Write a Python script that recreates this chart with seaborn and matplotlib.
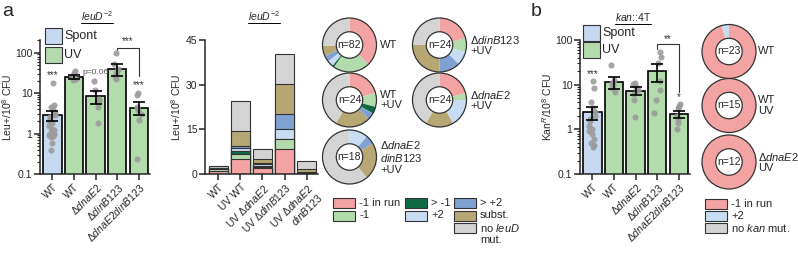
import numpy as np
import pandas as pd
import matplotlib
matplotlib.use("Agg")
import matplotlib.pyplot as plt
import seaborn as sns
from matplotlib.patches import Rectangle, Circle

sns.set_style("ticks")
plt.rcParams["font.family"] = ["Liberation Sans", "DejaVu Sans"]
plt.rcParams["mathtext.fontset"] = "custom"
plt.rcParams["mathtext.rm"] = "Liberation Sans"
plt.rcParams["mathtext.it"] = "Liberation Sans:italic"
plt.rcParams["mathtext.bf"] = "Liberation Sans:bold"
plt.rcParams["axes.linewidth"] = 1.1
plt.rcParams["xtick.major.width"] = 1.1
plt.rcParams["ytick.major.width"] = 1.1
plt.rcParams["ytick.minor.width"] = 0.8

# ---- data: panel a, leuD-2 reversion frequencies (Leu+/10^8 CFU)
strain_keys = ["WT_spont", "WT_UV", "dnaE2", "dinB123", "dnaE2dinB123"]
strain_labels = ["WT", "WT", r"Δ$\mathit{dnaE2}$", r"Δ$\mathit{dinB123}$",
                 r"Δ$\mathit{dnaE2dinB123}$"]
leu_means = [2.9, 25, 8.4, 40, 4.4]
leu_sem = [0.8, 3, 3, 13, 1.6]
leu_wt_spont = [18, 5.2, 4.5, 3.8, 3.2, 2.8, 2.5, 2.2, 2.0, 1.8, 1.5, 1.3,
                1.2, 1.1, 1.0, 1.0, 0.9, 0.85, 0.8, 0.6, 0.4]
leu_wt_uv = [35, 31, 27, 24, 22, 21]
leu_dnae2 = [20, 12, 7, 6.3, 6, 4.5, 1.8]
leu_dinb = [100, 52, 40, 35, 30, 26, 22]
leu_double = [10, 9, 4.5, 3.8, 3, 2.2, 0.23]

# ---- data: panel a, stacked mutation spectrum
stack_labels = ["WT", "UV WT", r"UV Δ$\mathit{dnaE2}$", r"UV Δ$\mathit{dinB123}$",
                "UV Δ$\\mathit{dnaE2}$\n$\\mathit{dinB123}$"]
mut_types = ["-1 in run", "-1", "> -1", "+2", "> +2", "subst.", "no $\\mathit{leuD}$\nmut."]
mut_colors = ["#f4a3a3", "#b3dcad", "#0e6b45", "#c9ddf2", "#7fa2d3", "#b6a774", "#d4d4d4"]
seg_run_m1 = [1.05, 4.9, 1.9, 8.3, 0]
seg_m1 = [0.6, 1.9, 0.4, 3.3, 0]
seg_gt_m1 = [0.05, 1.0, 0.3, 0, 0]
seg_p2 = [0.1, 1.0, 0.9, 3.4, 0.5]
seg_gt_p2 = [0.1, 0.6, 0.3, 5.0, 0.3]
seg_subst = [0.2, 5.0, 1.3, 10.1, 0.9]
seg_no_mut = [0.7, 10.1, 3.3, 10.1, 2.6]

# ---- data: panel a donuts (counts per mutation type)
donut_wt = [31, 18, 1, 3, 3, 5, 21]
donut_wt_uv = [5, 2, 1, 0, 1, 5, 10]
donut_dinb = [5, 2, 0, 2, 3, 6, 6]
donut_dnae2 = [5, 1, 0, 4, 0, 4, 10]
donut_double = [0, 0, 0, 2, 1, 4, 11]

# ---- data: panel b, kan::4T (KanR/10^8 CFU)
kan_means = [2.4, 11.2, 7.3, 20, 2.2]
kan_sem = [0.75, 3.3, 1.5, 8.5, 0.4]
kan_wt_spont = [12, 8.5, 4, 3, 2.5, 2, 1.7, 1.5, 1.2, 1.0, 0.9, 0.8, 0.6,
                0.5, 0.45, 0.4]
kan_wt_uv = [28, 13, 11, 10, 8.5, 7]
kan_dnae2 = [11, 10.5, 9, 7.5, 6.3, 4.5, 1.9]
kan_dinb = [53, 41, 30, 12, 7.5, 4.5, 2.3]
kan_double = [3.7, 3.3, 3.0, 2.0, 1.7, 1.4, 1.0]

kan_types = ["-1 in run", "+2", "no $\\mathit{kan}$ mut."]
kan_colors = ["#f4a3a3", "#c9ddf2", "#d4d4d4"]
kan_donut_wt = [22, 1, 0]
kan_donut_wt_uv = [15, 0, 0]
kan_donut_dnae2_uv = [12, 0, 0]

SPONT = "#c6d9f1"
UV = "#b3dcad"
DOT = "#9b9b9b"
W, H = 798, 256

fig = plt.figure(figsize=(W / 100, H / 100), dpi=100)


def px_axes(x0, y0, x1, y1, **kw):
    return fig.add_axes([x0 / W, 1 - y1 / H, (x1 - x0) / W, (y1 - y0) / H], **kw)


def freq_panel(ax, means, sem, groups, ylim, ylabel):
    np.random.seed(3)
    df = pd.DataFrame({"strain": np.repeat(strain_keys, [len(g) for g in groups]),
                       "freq": np.concatenate(groups)})
    sns.barplot(x=strain_keys, y=means, hue=strain_keys, order=strain_keys,
                palette=[SPONT, UV, UV, UV, UV], saturation=1, legend=False,
                width=0.84, edgecolor="black", linewidth=1.2, ax=ax)
    sns.stripplot(data=df, x="strain", y="freq", order=strain_keys, color=DOT,
                  size=4.4, jitter=0.17, alpha=0.9, linewidth=0, ax=ax, zorder=3)
    ax.errorbar(range(5), means, yerr=sem, fmt="none", ecolor="black",
                elinewidth=1.2, capsize=4, capthick=1.2, zorder=4)
    ax.set_yscale("log")
    ax.set_ylim(*ylim)
    ax.set_xlim(-0.58, 4.53)
    ax.set_yticks([0.1, 1, 10, 100])
    ax.set_yticklabels(["0.1", "1", "10", "100"], fontsize=7.5)
    ax.set_xticks(range(5))
    ax.set_xticklabels(strain_labels, rotation=45, ha="right",
                       rotation_mode="anchor", fontsize=7.5)
    ax.set_xlabel("")
    ax.set_ylabel(ylabel, fontsize=7.5, labelpad=1)
    ax.tick_params(axis="both", length=4, pad=1.5)
    ax.tick_params(axis="y", which="minor", length=2)
    sns.despine(ax=ax)


def donut(ax, counts, colors):
    ax.pie(counts, colors=colors, startangle=90, counterclock=False, radius=1,
           wedgeprops=dict(width=0.51, edgecolor="none"))
    ax.add_patch(Circle((0, 0), 1, fill=False, ec="#333333", lw=0.9))
    ax.add_patch(Circle((0, 0), 0.49, fill=False, ec="#333333", lw=0.9))
    ax.text(0, 0, f"n={sum(counts)}", ha="center", va="center", fontsize=7.5)
    ax.set_xlim(-1.05, 1.05)
    ax.set_ylim(-1.05, 1.05)
    ax.set_aspect("equal")
    ax.axis("off")


def donut_at(cx, cy, counts, colors, r=27):
    h = r * 1.05
    donut(px_axes(cx - h, cy - h, cx + h, cy + h), counts, colors)


# ---- panel a: frequencies
ax1 = px_axes(40, 40, 150, 174)
freq_panel(ax1, leu_means, leu_sem,
           [leu_wt_spont, leu_wt_uv, leu_dnae2, leu_dinb, leu_double],
           (0.1, 205), "Leu+/10$^8$ CFU")
ax1.text(0, 24, "***", ha="center", fontsize=7, color="#333333")
ax1.text(2, 30, "p=0.06", ha="center", fontsize=6, color="#555555")
ax1.text(4, 13, "***", ha="center", fontsize=7, color="#333333")
ax1.plot([3, 3, 4, 4], [115, 133, 133, 26], color="#333333", lw=0.8)
ax1.text(3.5, 160, "***", ha="center", fontsize=7, color="#333333", clip_on=False)

# ---- panel a: stacked spectrum
ax2 = px_axes(205, 40, 318, 174)
segs = np.array([seg_run_m1, seg_m1, seg_gt_m1, seg_p2, seg_gt_p2, seg_subst, seg_no_mut])
cum = np.cumsum(segs, axis=0)
for i in reversed(range(len(mut_types))):
    sns.barplot(x=list(range(5)), y=cum[i], color=mut_colors[i], saturation=1,
                width=0.86, edgecolor="#333333", linewidth=0.8, ax=ax2)
ax2.set_ylim(0, 45)
ax2.set_xlim(-0.61, 4.52)
ax2.set_yticks([0, 15, 30, 45])
ax2.set_yticklabels(["0", "15", "30", "45"], fontsize=7.5)
ax2.set_xticks(range(5))
ax2.set_xticklabels(stack_labels, rotation=45, ha="right",
                    rotation_mode="anchor", fontsize=7.5)
ax2.set_xlabel("")
ax2.set_ylabel("Leu+/10$^8$ CFU", fontsize=7.5, labelpad=2)
ax2.tick_params(axis="both", length=4, pad=1.5)
sns.despine(ax=ax2)

# ---- panel a: donuts
donut_at(349.5, 45, donut_wt, mut_colors)
donut_at(439.5, 45, donut_dinb, mut_colors)
donut_at(349.5, 100, donut_wt_uv, mut_colors)
donut_at(439.5, 100, donut_dnae2, mut_colors)
donut_at(349.5, 157, donut_double, mut_colors)

# ---- panel b
ax3 = px_axes(580, 40, 690, 174)
freq_panel(ax3, kan_means, kan_sem,
           [kan_wt_spont, kan_wt_uv, kan_dnae2, kan_dinb, kan_double],
           (0.1, 100), "Kan$^R$/10$^8$ CFU")
ax3.text(0, 15, "***", ha="center", fontsize=7, color="#333333")
ax3.text(4, 4.6, "*", ha="center", fontsize=7, color="#333333")
ax3.plot([3, 3, 4, 4], [63, 82, 82, 7], color="#333333", lw=0.8)
ax3.text(3.5, 92, "**", ha="center", fontsize=7, color="#333333", clip_on=False)

donut_at(729, 51.5, kan_donut_wt, kan_colors)
donut_at(729, 105.5, kan_donut_wt_uv, kan_colors)
donut_at(729, 162, kan_donut_dnae2_uv, kan_colors)

# ---- overlay for letters, titles, legends, labels
ov = fig.add_axes([0, 0, 1, 1], zorder=20)
ov.set_xlim(0, W)
ov.set_ylim(H, 0)
ov.axis("off")

ov.text(2, 11, "a", fontsize=14, va="center")
ov.text(531, 11, "b", fontsize=14, va="center")

titles = [ov.text(97, 16, r"$\mathit{leuD}^{-2}$", ha="center", va="center", fontsize=7.5),
          ov.text(264, 16, r"$\mathit{leuD}^{-2}$", ha="center", va="center", fontsize=7.5),
          ov.text(633, 17, r"$\mathit{kan}$::4T", ha="center", va="center", fontsize=7.5)]

# Spont / UV keys
for x0, y_sp, y_uv in [(45, 28, 47), (583, 25, 42)]:
    ov.add_patch(Rectangle((x0, y_sp), 17, 16, fc=SPONT, ec="#333333", lw=0.8))
    ov.add_patch(Rectangle((x0, y_uv), 17, 16, fc=UV, ec="#333333", lw=0.8))
    ov.text(x0 + 19, y_sp + 8, "Spont", va="center", fontsize=9)
    ov.text(x0 + 19, y_uv + 8, "UV", va="center", fontsize=9)

# donut labels
ov.text(380, 45, "WT", va="center", fontsize=8)
ov.text(380, 100, "WT\n+UV", va="center", fontsize=8, linespacing=1.1)
ov.text(380, 157, "Δ$\\mathit{dnaE2}$\n$\\mathit{dinB123}$\n+UV", va="center",
        fontsize=8, linespacing=1.1)
ov.text(470, 45, "Δ$\\mathit{dinB123}$\n+UV", va="center", fontsize=8, linespacing=1.1)
ov.text(470, 100, "Δ$\\mathit{dnaE2}$\n+UV", va="center", fontsize=8, linespacing=1.1)
ov.text(758, 51.5, "WT", va="center", fontsize=8)
ov.text(758, 105.5, "WT\nUV", va="center", fontsize=8, linespacing=1.1)
ov.text(758, 162, "Δ$\\mathit{dnaE2}$\nUV", va="center", fontsize=8, linespacing=1.1)

# spectrum legend (three columns)
leg_pos = [(333, 203), (333, 215.5), (405, 203), (405, 215.5),
           (454, 203), (454, 215.5), (454, 228)]
for (x0, yc), name, col in zip(leg_pos, mut_types, mut_colors):
    ov.add_patch(Rectangle((x0, yc - 5), 22, 10, fc=col, ec="#333333", lw=0.8))
    if "\n" in name:
        ov.text(x0 + 26, yc - 6, name, va="top", fontsize=8, linespacing=1.15)
    else:
        ov.text(x0 + 26, yc, name, va="center", fontsize=8)

for i, (name, col) in enumerate(zip(kan_types, kan_colors)):
    yc = 204 + 12 * i
    ov.add_patch(Rectangle((705, yc - 5), 22, 10, fc=col, ec="#333333", lw=0.8))
    ov.text(731, yc, name, va="center", fontsize=8)

# underline the titles
fig.canvas.draw()
inv = ov.transData.inverted()
for t in titles:
    bb = t.get_window_extent()
    (xa, ya), (xb, yb) = inv.transform([[bb.x0, bb.y0], [bb.x1, bb.y1]])
    yl = max(ya, yb) + 0.5
    ov.plot([xa, xb], [yl, yl], color="black", lw=0.7)

fig.savefig("out.png", dpi=100)
